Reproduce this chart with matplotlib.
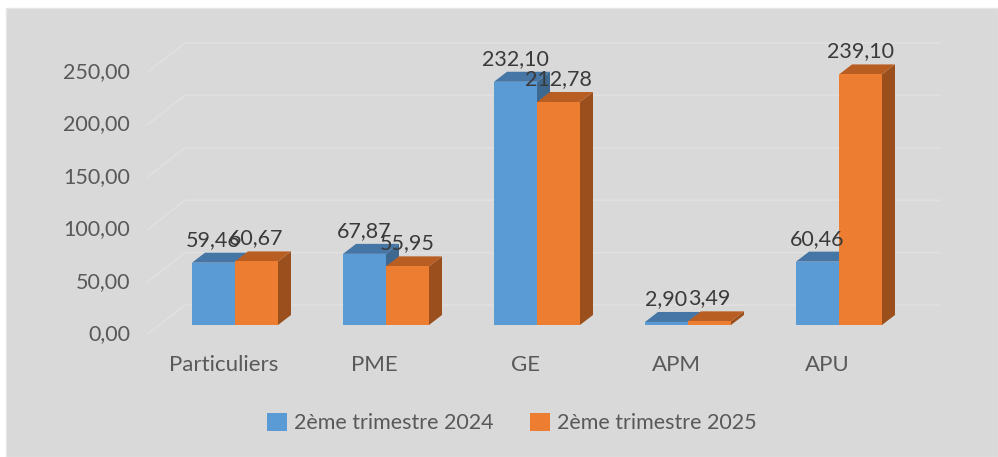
import matplotlib
matplotlib.use('Agg')
import matplotlib.pyplot as plt
from matplotlib.patches import Polygon, Rectangle, Patch

categories = ['Particuliers', 'PME', 'GE', 'APM', 'APU']
series_names = ['2ème trimestre 2024', '2ème trimestre 2025']
values_2024 = [59.46, 67.87, 232.10, 2.90, 60.46]
values_2025 = [60.67, 55.95, 212.78, 3.49, 239.10]
y_ticks = [0, 50, 100, 150, 200, 250]

FRONT = ['#5b9bd5', '#ed7d31']
TOP = ['#4576a6', '#b85e22']
SIDE = ['#3d6990', '#9a4f1c']
GRID = '#e0e0e0'
BG = '#d9d9d9'


def fmt(v):
    return f'{v:,.2f}'.replace(',', ' ').replace('.', ',').replace(' ', '.')


def script_main():
    plt.rcParams['font.family'] = ['Lato', 'DejaVu Sans']
    fig = plt.figure(figsize=(9.98, 4.57), dpi=100)
    fig.patch.set_facecolor('white')
    fig.patches.append(Rectangle((6 / 998, 0), 992 / 998, 449 / 457,
                                 transform=fig.transFigure, facecolor=BG,
                                 edgecolor='#e6e6e6', lw=1, zorder=-5))

    ax = fig.add_axes([0, 0, 1, 1])
    ax.set_axis_off()
    # pixel geometry of the excel 3d view, 151 px per category, 1.048 px per unit
    xu, yu = 151.0, 1.048
    ax.set_xlim(-223.5 / xu, (998 - 223.5) / xu)
    ax.set_ylim(-(457 - 334) / yu, 334 / yu)

    wall_dx, wall_dy = 37 / xu, 29 / yu
    f_dx, f_dy = 11.5 / xu, 9 / yu
    b_dx, b_dy = 13 / xu, 10 / yu
    w = 43 / xu
    n = len(categories)

    # back wall gridlines with the diagonal on the left side
    for v in y_ticks:
        ax.plot([-0.5, -0.5 + wall_dx, n - 0.5 + wall_dx],
                [v, v + wall_dy, v + wall_dy], color=GRID, lw=1.2, zorder=1)
        ax.annotate(fmt(v), (-0.5, v), xytext=(-18, 0), textcoords='offset pixels',
                    ha='right', va='center', fontsize=15.5, color='#595959')

    for i in range(n):
        for s, vals in enumerate([values_2024, values_2025]):
            v = vals[i]
            x0 = i + f_dx - w + s * w
            x1 = x0 + w
            y0 = f_dy
            y1 = f_dy + v
            side = [(x1, y0), (x1 + b_dx, y0 + b_dy), (x1 + b_dx, y1 + b_dy), (x1, y1)]
            top = [(x0, y1), (x1, y1), (x1 + b_dx, y1 + b_dy), (x0 + b_dx, y1 + b_dy)]
            ax.add_patch(Polygon(side, closed=True, facecolor=SIDE[s], edgecolor='none', zorder=3 + s))
            ax.add_patch(Polygon(top, closed=True, facecolor=TOP[s], edgecolor='none', zorder=3 + s))
            ax.add_patch(Rectangle((x0, y0), w, v, facecolor=FRONT[s], edgecolor='none', zorder=3 + s))
            ax.annotate(fmt(v), ((x0 + x1) / 2, y1 + b_dy), xytext=(0, 7),
                        textcoords='offset pixels', ha='center', va='baseline',
                        fontsize=15.5, color='#3a3a3a', zorder=10)
        ax.annotate(categories[i], (i, 0), xytext=(0, -31), textcoords='offset pixels',
                    ha='center', va='center', fontsize=16, color='#595959')

    handles = [Patch(facecolor=FRONT[s], edgecolor='none', label=series_names[s]) for s in range(2)]
    fig.legend(handles=handles, loc='center', bbox_to_anchor=(512 / 998, 1 - 423 / 457),
               ncol=2, frameon=False, fontsize=15.5, labelcolor='#595959',
               handlelength=0.9, handleheight=0.9, handletextpad=0.35,
               columnspacing=1.7)

    fig.savefig('out.png', dpi=100, facecolor=fig.get_facecolor())


if __name__ == '__main__':
    script_main()
